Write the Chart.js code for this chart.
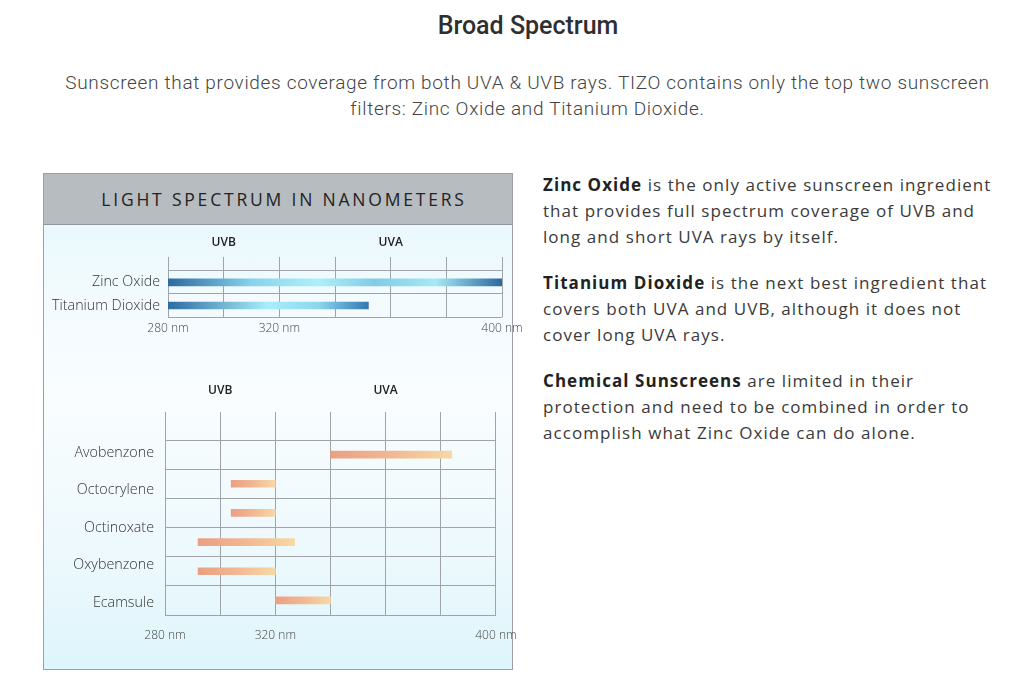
<!DOCTYPE html>
<html>
<head>
<meta charset="utf-8">
<title>Broad Spectrum</title>
<script src="https://cdn.jsdelivr.net/npm/chart.js@4.4.1/dist/chart.umd.min.js"></script>
<style>
  html, body { margin: 0; padding: 0; background: #fff; }
  body { width: 1025px; height: 693px; position: relative; overflow: hidden; font-family: 'Open Sans', sans-serif; color: #3a3a3a; }
  h1 { position: absolute; left: 228px; top: 10px; width: 600px; margin: 0; text-align: center; font: 500 25px/32px Roboto, sans-serif; color: #2f2f2f; }
  .lead { position: absolute; left: 27px; top: 70px; width: 1001px; margin: 0; text-align: center; font: 300 19px/26px Roboto, sans-serif; letter-spacing: 0.67px; color: #444; }
  .box { position: absolute; left: 43px; top: 173px; width: 468px; height: 495px; border: 1px solid #9aa0a5;
         background: linear-gradient(to bottom, #e4f7fd 0%, #f4fbfe 28%, #f9fdfe 45%, #eef9fd 75%, #def5fc 100%); }
  .box .head { height: 50px; padding-left: 12px; background: #b7bcc1; border-bottom: 1px solid #8f959a; text-align: center;
               font: 400 17.5px/51px 'Open Sans', sans-serif; letter-spacing: 2.8px; color: #222; }
  .chart { position: absolute; }
  #top-wrap { left: 44px; top: 225px; width: 486px; height: 120px; }
  #bottom-wrap { left: 44px; top: 360px; width: 486px; height: 300px; }
  .notes { position: absolute; left: 543px; top: 172px; width: 480px; font: 400 17px/26px 'Open Sans', sans-serif; letter-spacing: 1.05px; color: #3a3a3a; }
  .notes p { margin: 0 0 20px 0; }
  .notes b { color: #222; font-weight: 700; }
</style>
</head>
<body>

<h1>Broad Spectrum</h1>
<p class="lead">Sunscreen that provides coverage from both UVA &amp; UVB rays. TIZO contains only the top two sunscreen<br>filters: Zinc Oxide and Titanium Dioxide.</p>

<div class="box">
  <div class="head">LIGHT SPECTRUM IN NANOMETERS</div>
</div>
<div class="chart" id="top-wrap"><canvas id="chart-filters"></canvas></div>
<div class="chart" id="bottom-wrap"><canvas id="chart-chemicals"></canvas></div>

<div class="notes">
  <p><b>Zinc Oxide</b> is the only active sunscreen ingredient<br>that provides full spectrum coverage of UVB and<br>long and short UVA rays by itself.</p>
  <p><b>Titanium Dioxide</b> is the next best ingredient that<br>covers both UVA and UVB, although it does not<br>cover long UVA rays.</p>
  <p><b>Chemical Sunscreens</b> are limited in their<br>protection and need to be combined in order to<br>accomplish what Zinc Oxide can do alone.</p>
</div>

<script>
  // wavelength axis (nm)
  const nmMin = 280;
  const nmMax = 400;
  const nmStep = 20;
  const nmTicks = [280, 320, 400];
  const nmTickLabels = ['280 nm', '320 nm', '400 nm'];
  const bandCenters = [300, 360];
  const bandLabels = ['UVB', 'UVA'];

  // mineral filters (top chart)
  const filterNames = ['Zinc Oxide', 'Titanium Dioxide'];
  const filterRows = [0.5, 1.5];
  const filterRanges = [[280, 400], [280, 352]];

  // chemical filters (bottom chart) - 6 bars, 5 labels as in the original graphic
  const chemNames = ['Avobenzone', 'Octocrylene', 'Octinoxate', 'Oxybenzone', 'Ecamsule'];
  const chemLabelRows = [0.45, 1.71, 3.02, 4.29, 5.59];
  const chemRows = [0.5, 1.5, 2.5, 3.5, 4.5, 5.5];
  const chemRanges = [[340, 384], [304, 320], [304, 320], [292, 327], [292, 320], [320, 340]];

  const COLOR_GRID = '#a0a4a7';
  const COLOR_TEXT = '#3a3a3a';
  const BLUE_STOPS = [
    [[0, '#2d6aa0'], [0.25, '#86d3ea'], [0.45, '#aef0fa'], [0.62, '#80cbe5'], [0.8, '#a6e9f7'], [1, '#2c67a0']],
    [[0, '#2f6ca2'], [0.5, '#a8eefa'], [0.75, '#8fd6ee'], [1, '#3478b0']]
  ];
  const ORANGE_STOPS = [[0, '#ea9f84'], [0.5, '#f1b892'], [1, '#f7d8a6']];

  Chart.defaults.font.family = "'Open Sans', sans-serif";
  Chart.defaults.color = COLOR_TEXT;

  // one gradient per bar, running from its start to its end wavelength
  function barGradient(stopsFor, fallback) {
    return function(ctx) {
      const chart = ctx.chart;
      if (!chart.chartArea || !ctx.raw) return fallback;
      const xs = chart.scales.x;
      const x0 = xs.getPixelForValue(ctx.raw.x[0]);
      const x1 = xs.getPixelForValue(ctx.raw.x[1]);
      const g = chart.ctx.createLinearGradient(x0, 0, x1, 0);
      stopsFor(ctx.dataIndex).forEach(s => g.addColorStop(s[0], s[1]));
      return g;
    };
  }

  function fixedTicks(values) {
    return function(scale) {
      scale.ticks = values.map(v => ({ value: v }));
    };
  }

  function buildOptions(cfg) {
    return {
      indexAxis: 'y',
      responsive: true,
      maintainAspectRatio: false,
      animation: false,
      layout: { padding: cfg.padding },
      plugins: { legend: { display: false }, tooltip: { enabled: false } },
      scales: {
        x: {
          type: 'linear',
          min: nmMin, max: nmMax,
          border: { display: false },
          grid: { color: COLOR_GRID, lineWidth: 1, drawTicks: false },
          ticks: {
            stepSize: nmStep,
            autoSkip: false,
            maxRotation: 0,
            padding: cfg.nmPadding,
            color: '#444',
            font: { size: 12, weight: '300' },
            callback: v => {
              const i = nmTicks.indexOf(v);
              return i >= 0 ? nmTickLabels[i] : '';
            }
          }
        },
        xBands: {
          type: 'linear',
          position: 'top',
          min: nmMin, max: nmMax,
          border: { display: false },
          grid: { display: false, drawTicks: false },
          afterBuildTicks: fixedTicks(bandCenters),
          ticks: {
            padding: cfg.bandPadding,
            color: '#222',
            font: { size: 12, weight: '600' },
            callback: (v, i) => bandLabels[i]
          }
        },
        // row separators
        y: {
          type: 'linear',
          reverse: true,
          offset: false,
          min: cfg.yMin, max: cfg.yMax,
          border: { display: false },
          grid: { color: COLOR_GRID, lineWidth: 1, drawTicks: false, offset: false },
          afterBuildTicks: fixedTicks(cfg.rowLines),
          ticks: { display: false }
        },
        // ingredient names
        yLabels: {
          type: 'linear',
          position: 'left',
          reverse: true,
          offset: false,
          min: cfg.yMin, max: cfg.yMax,
          border: { display: false },
          grid: { display: false, drawTicks: false, offset: false },
          afterBuildTicks: fixedTicks(cfg.labelRows),
          afterFit: scale => { scale.width = cfg.labelWidth; },
          ticks: {
            autoSkip: false,
            padding: cfg.labelPadding,
            color: '#333',
            font: { size: 14.3, weight: '300' },
            callback: (v, i) => cfg.names[i]
          }
        }
      }
    };
  }

  new Chart(document.getElementById('chart-filters'), {
    type: 'bar',
    data: {
      datasets: [{
        data: filterRows.map((r, i) => ({ y: r, x: filterRanges[i] })),
        backgroundColor: barGradient(i => BLUE_STOPS[i], '#5aa4cf'),
        borderWidth: 0,
        barThickness: 7
      }]
    },
    options: buildOptions({
      padding: { top: 3.6, bottom: 5.6, left: 0, right: 28 },
      nmPadding: 4, bandPadding: 7,
      yMin: -0.6, yMax: 2,
      rowLines: [0, 1, 2],
      labelRows: filterRows,
      names: filterNames,
      labelWidth: 124, labelPadding: 8
    })
  });

  new Chart(document.getElementById('chart-chemicals'), {
    type: 'bar',
    data: {
      datasets: [{
        data: chemRows.map((r, i) => ({ y: r, x: chemRanges[i] })),
        backgroundColor: barGradient(() => ORANGE_STOPS, '#f1b892'),
        borderWidth: 0,
        barThickness: 7
      }]
    },
    options: buildOptions({
      padding: { top: 9.6, bottom: 3.8, left: 0, right: 32 },
      nmPadding: 13.4, bandPadding: 14,
      yMin: -0.96, yMax: 6,
      rowLines: [0, 1, 2, 3, 4, 5, 6],
      labelRows: chemLabelRows,
      names: chemNames,
      labelWidth: 121, labelPadding: 11
    })
  });
</script>
</body>
</html>
